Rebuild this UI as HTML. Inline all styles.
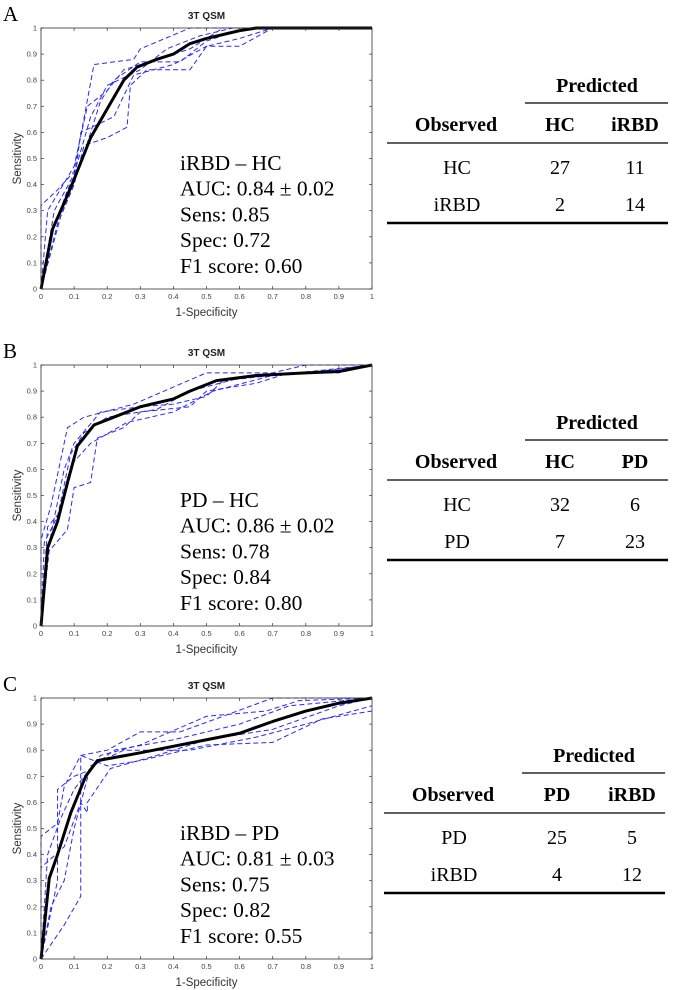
<!DOCTYPE html>
<html><head><meta charset="utf-8">
<style>
body{margin:0;background:#fff;width:675px;height:990px;overflow:hidden}
svg{display:block}
</style></head>
<body>
<svg id="fig" width="675" height="990" xmlns="http://www.w3.org/2000/svg"></svg>
<script>
// ---------- DATA ----------
const ticks = [0,0.1,0.2,0.3,0.4,0.5,0.6,0.7,0.8,0.9,1];
const tickLabels = ["0","0.1","0.2","0.3","0.4","0.5","0.6","0.7","0.8","0.9","1"];

const meanA_x = [0,0.035,0.07,0.1,0.15,0.2,0.25,0.29,0.35,0.4,0.45,0.5,0.6,0.65,1];
const meanA_y = [0,0.23,0.33,0.42,0.58,0.69,0.8,0.85,0.88,0.9,0.94,0.96,0.99,1,1];
const meanB_x = [0,0.02,0.05,0.08,0.11,0.16,0.22,0.3,0.4,0.45,0.53,0.65,0.8,0.9,1];
const meanB_y = [0,0.3,0.4,0.55,0.69,0.77,0.8,0.84,0.87,0.9,0.94,0.96,0.97,0.975,1];
const meanC_x = [0,0.025,0.05,0.09,0.135,0.17,0.3,0.5,0.6,0.7,0.8,0.9,1];
const meanC_y = [0,0.31,0.4,0.56,0.7,0.76,0.79,0.84,0.865,0.91,0.95,0.98,1];

const foldsA = [
 [[0,0],[0,0.32],[0.05,0.38],[0.1,0.45],[0.16,0.86],[0.28,0.88],[0.3,0.92],[0.45,1],[1,1]],
 [[0,0],[0.05,0.25],[0.1,0.4],[0.13,0.55],[0.2,0.58],[0.26,0.62],[0.27,0.78],[0.32,0.84],[0.45,0.84],[0.5,0.93],[0.6,0.96],[0.7,1],[1,1]],
 [[0,0],[0.03,0.2],[0.08,0.38],[0.12,0.48],[0.18,0.72],[0.22,0.8],[0.3,0.87],[0.42,0.87],[0.5,0.95],[0.62,1],[1,1]],
 [[0,0],[0.02,0.3],[0.1,0.47],[0.14,0.7],[0.2,0.76],[0.25,0.84],[0.35,0.88],[0.45,0.92],[0.55,1],[1,1]],
 [[0,0],[0.06,0.28],[0.1,0.4],[0.12,0.6],[0.22,0.66],[0.28,0.82],[0.4,0.86],[0.5,0.93],[0.6,0.93],[0.7,1],[1,1]],
 [[0,0],[0.04,0.3],[0.1,0.44],[0.15,0.66],[0.2,0.78],[0.3,0.84],[0.38,0.92],[0.48,0.97],[0.58,1],[1,1]]
];
const foldsB = [
 [[0,0],[0,0.33],[0.03,0.46],[0.08,0.76],[0.13,0.8],[0.28,0.85],[0.5,0.97],[0.7,0.97],[0.8,1],[1,1]],
 [[0,0],[0.02,0.28],[0.08,0.37],[0.1,0.53],[0.15,0.55],[0.17,0.72],[0.25,0.76],[0.3,0.82],[0.45,0.84],[0.5,0.9],[0.65,0.93],[0.75,0.97],[0.9,0.97],[1,1]],
 [[0,0],[0.01,0.32],[0.05,0.42],[0.09,0.66],[0.13,0.74],[0.2,0.8],[0.35,0.83],[0.45,0.9],[0.6,0.95],[0.8,0.97],[1,1]],
 [[0,0],[0.03,0.35],[0.07,0.6],[0.1,0.7],[0.18,0.82],[0.3,0.84],[0.4,0.85],[0.5,0.88],[0.55,0.94],[0.85,0.98],[1,1]],
 [[0,0],[0.02,0.38],[0.06,0.44],[0.1,0.63],[0.15,0.7],[0.26,0.78],[0.4,0.82],[0.52,0.9],[0.7,0.96],[0.9,0.98],[1,1]]
];
const foldsC = [
 [[0,0],[0,0.47],[0.05,0.52],[0.07,0.66],[0.12,0.78],[0.2,0.8],[0.3,0.87],[0.42,0.87],[0.55,0.93],[0.7,1],[1,1]],
 [[0,0],[0.07,0.13],[0.12,0.24],[0.12,0.78],[0.2,0.74],[0.3,0.76],[0.5,0.82],[0.7,0.83],[0.85,0.92],[1,0.95]],
 [[0,0],[0.05,0.3],[0.05,0.65],[0.1,0.7],[0.14,0.72],[0.22,0.8],[0.4,0.84],[0.6,0.9],[0.75,0.97],[1,1]],
 [[0,0],[0,0.35],[0.07,0.43],[0.12,0.6],[0.14,0.56],[0.14,0.6],[0.21,0.73],[0.35,0.78],[0.5,0.84],[0.7,0.88],[0.9,0.97],[1,1]],
 [[0,0],[0.03,0.2],[0.07,0.3],[0.1,0.5],[0.15,0.74],[0.25,0.8],[0.45,0.8],[0.65,0.85],[0.8,0.9],[1,0.97]],
 [[0,0],[0.02,0.4],[0.06,0.54],[0.1,0.65],[0.18,0.78],[0.3,0.82],[0.5,0.93],[0.68,0.95],[0.78,0.99],[1,1]]
];

const panels = [
 {letter:"A", dy:0,   mx:meanA_x, my:meanA_y, folds:foldsA, stats:["iRBD – HC","AUC: 0.84 ± 0.02","Sens: 0.85","Spec: 0.72","F1 score: 0.60"],
  cols:["HC","iRBD"], rows:["HC","iRBD"], vals:[["27","11"],["2","14"]], tdx:0},
 {letter:"B", dy:337, mx:meanB_x, my:meanB_y, folds:foldsB, stats:["PD – HC","AUC: 0.86 ± 0.02","Sens: 0.78","Spec: 0.84","F1 score: 0.80"],
  cols:["HC","PD"], rows:["HC","PD"], vals:[["32","6"],["7","23"]], tdx:0},
 {letter:"C", dy:670, mx:meanC_x, my:meanC_y, folds:foldsC, stats:["iRBD – PD","AUC: 0.81 ± 0.03","Sens: 0.75","Spec: 0.82","F1 score: 0.55"],
  cols:["PD","iRBD"], rows:["PD","iRBD"], vals:[["25","5"],["4","12"]], tdx:-3}
];

// ---------- DRAW ----------
const NS="http://www.w3.org/2000/svg";
const svg=document.getElementById('fig');
function mk(tag,attrs,parent,txt){const e=document.createElementNS(NS,tag);for(const k in attrs)e.setAttribute(k,attrs[k]);if(txt!==undefined)e.textContent=txt;(parent||svg).appendChild(e);return e;}
const L=41,R=372,H=261;
const serif='"Liberation Serif", serif', sans='"Liberation Sans", sans-serif';

panels.forEach(p=>{
  const T=28+p.dy, B=T+H;
  const sx=v=>L+v*(R-L), sy=v=>B-v*H;
  const g=mk('g',{});
  
  
  const lt=mk('text',{x:3,y:T-7,'font-family':serif,'font-size':21,fill:'#000'},g,p.letter);
  
  
  const tt=mk('text',{x:(L+R)/2,y:T-9,'font-family':sans,'font-size':10,'font-weight':'bold','text-anchor':'middle',fill:'#222'},g,'3T QSM');
  
  
  p.folds.forEach(f=>{
    const pl=mk('polyline',{points:f.map(q=>sx(q[0])+','+sy(q[1])).join(' '),fill:'none',stroke:'#2a2af5','stroke-width':1,'stroke-dasharray':'5,3'},g);
    
    
  });
  const mp=mk('polyline',{points:p.mx.map((x,i)=>sx(x)+','+sy(p.my[i])).join(' '),fill:'none',stroke:'#000','stroke-width':3,'stroke-linejoin':'round'},g);
  
  
  const box=mk('rect',{x:L,y:T,width:R-L,height:H,fill:'none',stroke:'#333','stroke-width':0.8},g);
  
  
  ticks.forEach((t,i)=>{
    mk('line',{x1:sx(t),x2:sx(t),y1:B,y2:B-3,stroke:'#333','stroke-width':0.7},g);
    mk('line',{x1:sx(t),x2:sx(t),y1:T,y2:T+3,stroke:'#333','stroke-width':0.7},g);
    mk('line',{x1:L,x2:L+3,y1:sy(t),y2:sy(t),stroke:'#333','stroke-width':0.7},g);
    mk('line',{x1:R,x2:R-3,y1:sy(t),y2:sy(t),stroke:'#333','stroke-width':0.7},g);
    const xl=mk('text',{x:sx(t),y:B+10,'font-family':sans,'font-size':7.5,'text-anchor':'middle',fill:'#444'},g,tickLabels[i]);
    
    
    const yl=mk('text',{x:L-4,y:sy(t)+2.5,'font-family':sans,'font-size':7.5,'text-anchor':'end',fill:'#444'},g,tickLabels[i]);
    
    
  });
  const xt=mk('text',{x:(L+R)/2,y:B+27,'font-family':sans,'font-size':11.5,'text-anchor':'middle',fill:'#333'},g,'1-Specificity');
  
  
  const yt=mk('text',{x:0,y:0,'font-family':sans,'font-size':11.5,'text-anchor':'middle',fill:'#333',transform:`translate(21,${(T+B)/2}) rotate(-90)`},g,'Sensitivity');
  
  
  p.stats.forEach((s,i)=>{
    const st=mk('text',{x:180,y:T+142+i*25.7,'font-family':serif,'font-size':21.5,fill:'#000'},g,s);
    
    
  });
  const d=p.dy, x0=p.tdx;
  const tg=mk('g',{transform:`translate(${x0},${d})`});
  
  
  const bold={'font-family':serif,'font-size':20,'font-weight':'bold','text-anchor':'middle',fill:'#000'};
  const reg={'font-family':serif,'font-size':20,'text-anchor':'middle',fill:'#000'};
  let e;
  e=mk('text',Object.assign({x:597,y:92},bold),tg,'Predicted');
  
  
  mk('line',{x1:525,x2:668,y1:103,y2:103,stroke:'#000','stroke-width':1.2},tg);
  e=mk('text',Object.assign({x:456,y:131},bold),tg,'Observed');
  
  
  p.cols.forEach((c,j)=>{
    e=mk('text',Object.assign({x:[560,635][j],y:131},bold),tg,c);
    
    
  });
  mk('line',{x1:387,x2:668,y1:143,y2:143,stroke:'#000','stroke-width':1.2},tg);
  p.rows.forEach((r,i)=>{
    const y=[174,211][i];
    e=mk('text',Object.assign({x:457,y:y},reg),tg,r);
    
    
    p.vals[i].forEach((v,j)=>{
      e=mk('text',Object.assign({x:[560,635][j],y:y},reg),tg,v);
      
      
    });
  });
  mk('line',{x1:387,x2:668,y1:223,y2:223,stroke:'#000','stroke-width':2.6},tg);
});
</script>
</body></html>
